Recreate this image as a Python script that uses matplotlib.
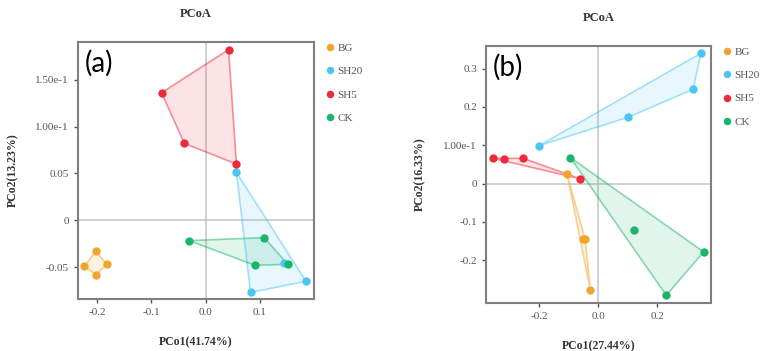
import numpy as np
import matplotlib
matplotlib.use("Agg")
import matplotlib.pyplot as plt

plt.rcParams['font.family'] = ['Liberation Serif', 'DejaVu Serif']

groups = ['BG', 'SH20', 'SH5', 'CK']
colors = {'BG': '#F2A52E', 'SH20': '#4CC6F0', 'SH5': '#EC2B3B', 'CK': '#1BB56B'}

# panel (a) coordinates, PCo1 / PCo2
a_x = {
    'BG':   [-0.202, -0.2235, -0.182, -0.202],
    'SH20': [0.057, 0.185, 0.083, 0.145],
    'SH5':  [0.0426, -0.081, -0.039, 0.057],
    'CK':   [-0.030, 0.108, 0.091, 0.152],
}
a_y = {
    'BG':   [-0.033, -0.049, -0.047, -0.058],
    'SH20': [0.051, -0.065, -0.077, -0.046],
    'SH5':  [0.182, 0.136, 0.082, 0.060],
    'CK':   [-0.0217, -0.0185, -0.048, -0.047],
}
a_xticks = [-0.2, -0.1, 0.0, 0.1]
a_xticklabels = ['-0.2', '-0.1', '0.0', '0.1']
a_yticks = [-0.05, 0, 0.05, 0.10, 0.15]
a_yticklabels = ['-0.05', '0', '0.05', '1.00e-1', '1.50e-1']

# panel (b)
b_x = {
    'BG':   [-0.106, -0.053, -0.045, -0.027],
    'SH20': [-0.2017, 0.101, 0.322, 0.349],
    'SH5':  [-0.358, -0.319, -0.255, -0.063],
    'CK':   [-0.095, 0.120, 0.358, 0.231],
}
b_y = {
    'BG':   [0.0245, -0.145, -0.145, -0.277],
    'SH20': [0.099, 0.173, 0.246, 0.340],
    'SH5':  [0.066, 0.0635, 0.066, 0.013],
    'CK':   [0.068, -0.120, -0.178, -0.291],
}
b_xticks = [-0.2, 0.0, 0.2]
b_xticklabels = ['-0.2', '0.0', '0.2']
b_yticks = [-0.2, -0.1, 0, 0.1, 0.2, 0.3]
b_yticklabels = ['-0.2', '-0.1', '0', '1.00e-1', '0.2', '0.3']


def hull(xs, ys):
    pts = sorted(set(zip(xs, ys)))
    if len(pts) < 3:
        return pts
    def cross(o, a, b):
        return (a[0]-o[0])*(b[1]-o[1]) - (a[1]-o[1])*(b[0]-o[0])
    lower = []
    for p in pts:
        while len(lower) >= 2 and cross(lower[-2], lower[-1], p) <= 0:
            lower.pop()
        lower.append(p)
    upper = []
    for p in reversed(pts):
        while len(upper) >= 2 and cross(upper[-2], upper[-1], p) <= 0:
            upper.pop()
        upper.append(p)
    return lower[:-1] + upper[:-1]


def panel(ax, xs, ys, xlim, ylim, xt, xtl, yt, ytl, xlabel, ylabel, tag):
    ax.axhline(0, color='#c8c8c8', lw=1.2, zorder=0)
    ax.axvline(0, color='#c8c8c8', lw=1.2, zorder=0)
    for g in groups:
        c = colors[g]
        h = hull(xs[g], ys[g])
        hx = [p[0] for p in h] + [h[0][0]]
        hy = [p[1] for p in h] + [h[0][1]]
        ax.fill(hx, hy, color=c, alpha=0.13, lw=0, zorder=1)
        ax.plot(hx, hy, color=c, alpha=0.5, lw=1.2, zorder=2)
        ax.plot(xs[g], ys[g], 'o', color=c, ms=6, mec='none', zorder=3, label=g)
    ax.set_xlim(xlim)
    ax.set_ylim(ylim)
    ax.set_xticks(xt)
    ax.set_xticklabels(xtl)
    ax.set_yticks(yt)
    ax.set_yticklabels(ytl)
    ax.tick_params(labelsize=8, colors='#555555', length=3, width=1)
    for s in ax.spines.values():
        s.set_color('#7f7f7f')
        s.set_linewidth(1.5)
    ax.set_title('PCoA', fontsize=9, fontweight='bold', color='#333333', pad=18)
    ax.set_xlabel(xlabel, fontsize=8.5, fontweight='bold', color='#333333', labelpad=14)
    ax.set_ylabel(ylabel, fontsize=8.5, fontweight='bold', color='#333333', labelpad=12)
    ax.text(0.03, 0.97, tag, transform=ax.transAxes, fontsize=20,
            family='Lato', va='top', ha='left', color='black')
    leg = ax.legend(loc='upper left', bbox_to_anchor=(0.995, 1.035), frameon=False,
                    fontsize=8, handletextpad=0.1, labelspacing=1.22,
                    handlelength=1.2, markerscale=0.9)
    for t in leg.get_texts():
        t.set_color('#555555')


fig = plt.figure(figsize=(7.8, 3.51), dpi=100)
ax1 = fig.add_axes([0.1, 0.148, 0.3026, 0.732])
ax2 = fig.add_axes([0.623, 0.137, 0.2885, 0.732])

panel(ax1, a_x, a_y, (-0.235, 0.2), (-0.084, 0.19),
      a_xticks, a_xticklabels, a_yticks, a_yticklabels,
      'PCo1(41.74%)', 'PCo2(13.23%)', '(a)')
panel(ax2, b_x, b_y, (-0.382, 0.383), (-0.311, 0.359),
      b_xticks, b_xticklabels, b_yticks, b_yticklabels,
      'PCo1(27.44%)', 'PCo2(16.33%)', '(b)')

fig.savefig('out.png', dpi=100)
